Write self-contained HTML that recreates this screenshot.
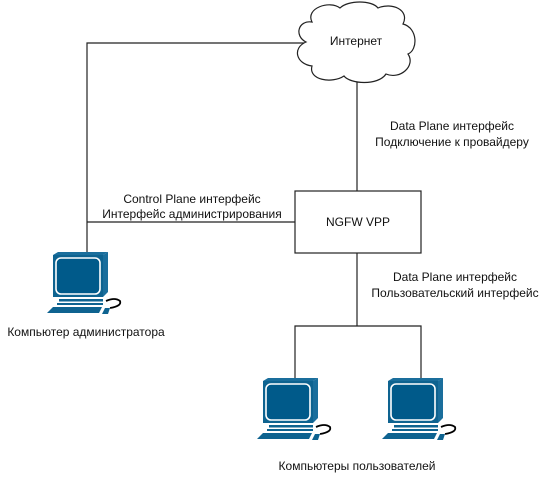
<!DOCTYPE html>
<html><head><meta charset="utf-8"><style>
html,body{margin:0;padding:0;background:#fff;}
svg{display:block;}
text{font-family:"Liberation Sans",Arial,sans-serif;font-size:12px;fill:#111;}
</style></head><body>
<svg width="548" height="478" viewBox="0 0 548 478" xmlns="http://www.w3.org/2000/svg">
<defs>
<g id="pc">
  <polygon points="8,3 13,0 63,0 58,3" fill="#1a6e9c"/>
  <polygon points="58,3 63,0 63,40 58,45" fill="#1a6e9c"/>
  <rect x="8" y="3" width="50" height="42" fill="#0e6390"/>
  <rect x="11" y="6" width="44" height="36" rx="5" fill="#005a8a" stroke="#fff" stroke-width="1.6"/>
  <rect x="14" y="47" width="44" height="2.5" fill="#0e6390"/>
  <rect x="12" y="51" width="46" height="2" fill="#0e6390"/>
  <polygon points="2,61 54,61 57,55 8,55" fill="#0e6390"/>
  <polygon points="57,62 63,62 65,56 60,56" fill="#0e6390"/>
  <path d="M61,49 Q70,45 75,49 Q77,54 65,56" fill="none" stroke="#000" stroke-width="1.8"/>
</g>
</defs>
<g stroke="#222" stroke-width="1.2" fill="none">
  <polyline points="87,252 87,43 304,43"/>
  <line x1="87" y1="222" x2="295" y2="222"/>
  <line x1="357" y1="78" x2="357" y2="191"/>
  <line x1="357" y1="253" x2="357" y2="326"/>
  <polyline points="295,378 295,326 421,326 421,378"/>
  <rect x="295" y="191" width="126" height="62" fill="#fff"/>
  <path d="M312,22 C305,8 330,0 340,8 C348,0 372,0 378,8 C392,2 410,10 403,24 C418,28 418,50 408,54 C416,66 400,80 386,74 C378,86 350,84 344,76 C332,84 308,80 312,66 C296,64 292,48 306,42 C294,36 298,20 312,22 Z" fill="#fff"/>
</g>
<text x="356" y="45" text-anchor="middle">Интернет</text>
<text x="358" y="226" text-anchor="middle">NGFW VPP</text>
<text x="192" y="203" text-anchor="middle">Control Plane интерфейс</text>
<text x="192" y="218" text-anchor="middle">Интерфейс администрирования</text>
<text x="452" y="130" text-anchor="middle">Data Plane интерфейс</text>
<text x="452" y="146" text-anchor="middle">Подключение к провайдеру</text>
<text x="455" y="281" text-anchor="middle">Data Plane интерфейс</text>
<text x="455" y="297" text-anchor="middle">Пользовательский интерфейс</text>
<text x="86" y="336" text-anchor="middle">Компьютер администратора</text>
<text x="357" y="470" text-anchor="middle">Компьютеры пользователей</text>
<use href="#pc" x="45" y="252"/>
<use href="#pc" x="255" y="378"/>
<use href="#pc" x="380" y="378"/>
</svg>
</body></html>
